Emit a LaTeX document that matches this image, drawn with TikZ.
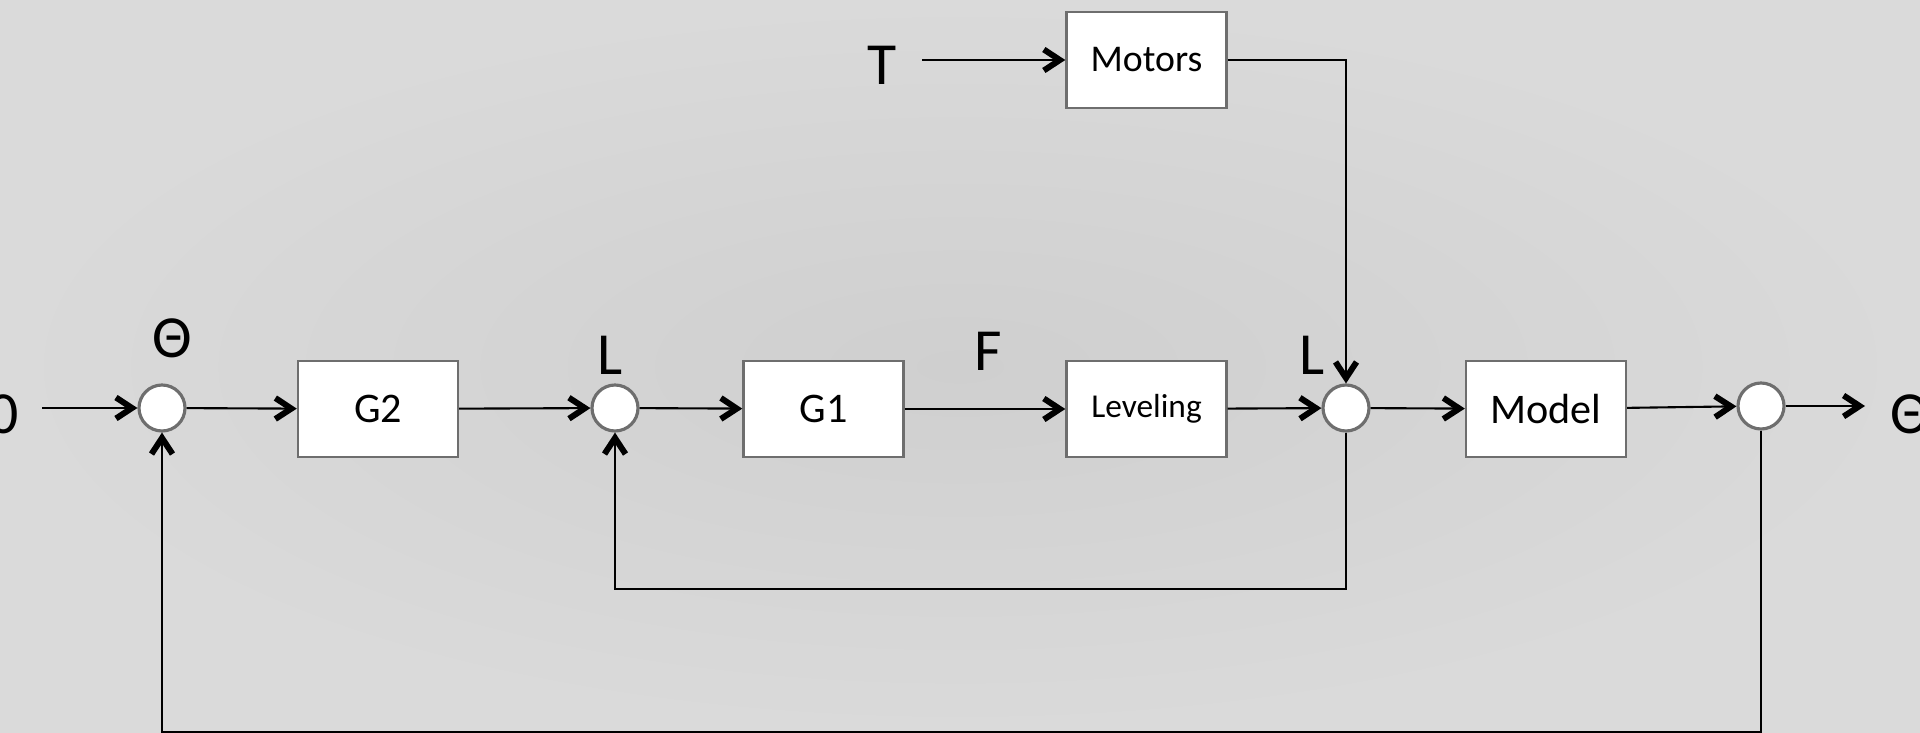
\documentclass[tikz,border=0pt]{standalone}
\usepackage{fontspec}
\setmainfont{Carlito}
\usetikzlibrary{arrows.meta}
\definecolor{bgin}{HTML}{CFCFCF}
\definecolor{bgout}{HTML}{DADADA}
\definecolor{frame}{HTML}{6E6E6E}

\begin{document}
\begin{tikzpicture}[
    x=0.02cm, y=-0.02cm,
    box/.style={draw=frame, fill=white, line width=1.4pt, minimum width=3.2cm, minimum height=1.92cm, inner sep=0pt, font=\fontsize{24}{28}\selectfont},
    sum/.style={circle, draw=frame, fill=white, line width=1.8pt, minimum size=0.92cm, inner sep=0pt},
    lbl/.style={inner sep=0pt, font=\fontsize{34}{40}\selectfont},
    ar/.style={-{Straight Barb[length=3.2mm, width=4.2mm, line width'=3.4pt]}, line width=1.2pt}
  ]
    \shade[inner color=bgin, outer color=bgout] (0,0) rectangle (1920,733);
    \useasboundingbox (0,0) rectangle (1920,733);
    % main loop
    \node[sum] (s1) at (162,408) {};
    \node[box] (g2) at (378,409) {G2};
    \node[sum] (s2) at (615,408) {};
    \node[box] (g1) at (823.5,409) {G1};
    \node[box, font=\fontsize{19}{22}\selectfont] (lev) at (1146.5,409) {Leveling};
    \node[sum] (s3) at (1346,408) {};
    \node[box] (model) at (1546,409) {Model};
    \node[sum] (s4) at (1761,406) {};
    \node[box, font=\fontsize{21.5}{25}\selectfont] (motors) at (1146.5,60) {Motors};
    % signal names
    \node[lbl, anchor=east] (zero) at (19,414) {0};
    \node[lbl] (th) at (172,338) {Θ};
    \node[lbl] (l1) at (610,355) {L};
    \node[lbl] (f) at (988,351) {F};
    \node[lbl] (l2) at (1312,355) {L};
    \node[lbl] (t) at (882,65) {T};
    \node[lbl, anchor=west] (thout) at (1890,414) {Θ};
    \coordinate (ins) at (42,408);
    \coordinate (ts) at (922,60);
    \coordinate (outs) at (1865,406);
    % connectors
    \draw[ar] (ins) -- (s1);
    \draw[ar] (s1) -- (g2);
    \draw[ar] (g2) -- (s2);
    \draw[ar] (s2) -- (g1);
    \draw[ar] (g1) -- (lev);
    \draw[ar] (lev) -- (s3);
    \draw[ar] (s3) -- (model);
    \draw[ar] (model) -- (s4);
    \draw[ar] (s4) -- (outs);
    \draw[ar] (ts) -- (motors);
    \draw[ar] (motors.east) -| (s3.north);
    \draw[ar] (s3.south) -- ++(0,156) -| (s2.south);
    \draw[ar] (s4.south) -- ++(0,301) -| (s1.south);
\end{tikzpicture}
\end{document}
